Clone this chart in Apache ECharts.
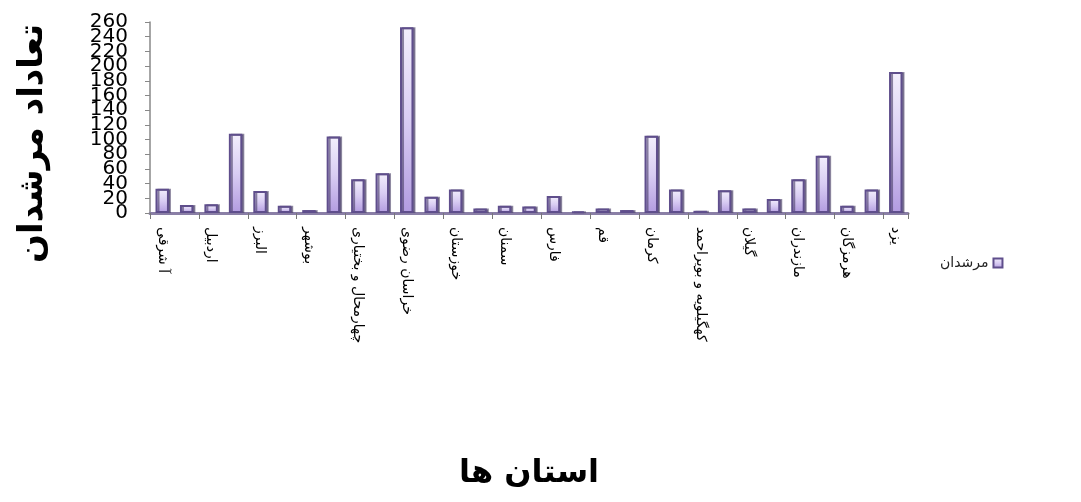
<!DOCTYPE html>
<html>
<head>
<meta charset="utf-8">
<script src="https://cdn.jsdelivr.net/npm/echarts@6/dist/echarts.min.js"></script>
<style>
html,body{margin:0;padding:0;background:#fff;}
#c{width:1081px;height:502px;}
</style>
</head>
<body>
<div id="c"></div>
<script>
const provinces = [
  'آ شرقی','آ غربی','اردبیل','اصفهان','البرز','ایلام','بوشهر','تهران',
  'چهارمحال و بختیاری','خراسان جنوبی','خراسان رضوی','خراسان شمالی','خوزستان',
  'زنجان','سمنان','سیستان و بلوچستان','فارس','قزوین','قم','کردستان','کرمان',
  'کرمانشاه','کهگیلویه و بویراحمد','گلستان','گیلان','لرستان','مازندران',
  'مرکزی','هرمزگان','همدان','یزد'
];
const counselors = [
  33, 11, 12, 108, 30, 10, 4, 104,
  46, 54, 253, 22, 32,
  6, 10, 9, 23, 2, 6, 4, 105,
  32, 3, 31, 6, 19, 46,
  78, 10, 32, 192
];
const yRange = { min: 0, max: 260, interval: 20 };
const seriesName = 'مرشدان';
const xTitle = 'استان ها';
const yTitle = 'تعاداد مرشدان';

const labelFont = { fontFamily: 'DejaVu Sans', fontSize: 20, color: '#000' };

const chart = echarts.init(document.getElementById('c'));
chart.setOption({
  animation: false,
  backgroundColor: '#ffffff',
  grid: { left: 150, right: 173, top: 22, bottom: 289, containLabel: false, outerBoundsMode: 'none' },
  legend: {
    data: [seriesName],
    left: 935, top: 251,
    align: 'right',
    itemWidth: 9, itemHeight: 9,
    icon: 'rect',
    textStyle: { fontFamily: 'DejaVu Sans', fontSize: 14, color: '#222' }
  },
  xAxis: {
    type: 'category',
    data: provinces,
    name: xTitle,
    nameLocation: 'middle',
    nameGap: 245,
    nameTextStyle: { fontFamily: 'DejaVu Sans', fontSize: 32, fontWeight: 'bold', color: '#000' },
    axisLine: { lineStyle: { color: '#8a7fa6', width: 3 } },
    axisTick: { show: true, alignWithLabel: false, length: 6, lineStyle: { color: '#777' } },
    axisLabel: {
      interval: 1,
      rotate: -90,
      margin: 14,
      hideOverlap: false,
      fontFamily: 'DejaVu Sans',
      fontSize: 14,
      color: '#000'
    }
  },
  yAxis: [{
    type: 'value',
    position: 'left',
    min: yRange.min, max: yRange.max, interval: yRange.interval,
    name: yTitle,
    nameLocation: 'middle',
    nameGap: 100,
    nameTextStyle: { fontFamily: 'DejaVu Sans', fontSize: 34, fontWeight: 'bold', color: '#000', padding: [0, 52, 0, 0] },
    axisLine: { show: true, lineStyle: { color: '#888', width: 1.5 } },
    axisTick: { show: true, length: 5, lineStyle: { color: '#888' } },
    splitLine: { show: false },
    axisLabel: Object.assign({
      margin: 22, hideOverlap: false,
      formatter: v => (v % 40 === 0 ? String(v) : '')
    }, labelFont)
  }, {
    type: 'value',
    position: 'left',
    offset: 0,
    min: yRange.min, max: yRange.max, interval: yRange.interval,
    axisLine: { show: false },
    axisTick: { show: false },
    splitLine: { show: false },
    axisLabel: Object.assign({
      margin: 22, hideOverlap: false,
      formatter: v => (v % 40 === 20 ? String(v) : '')
    }, labelFont)
  }],
  series: [{
    name: seriesName,
    type: 'bar',
    yAxisIndex: 0,
    data: counselors,
    barWidth: '55%',
    itemStyle: {
      color: new echarts.graphic.LinearGradient(0, 0, 0, 1, [
        { offset: 0, color: '#f3effc' },
        { offset: 0.5, color: '#d9cdf3' },
        { offset: 1, color: '#b29be0' }
      ]),
      borderColor: '#5f4e8c',
      borderWidth: 2,
      shadowColor: 'rgba(70,60,100,0.6)',
      shadowOffsetX: 2,
      shadowOffsetY: 0,
      shadowBlur: 0
    }
  }]
});
</script>
</body>
</html>
